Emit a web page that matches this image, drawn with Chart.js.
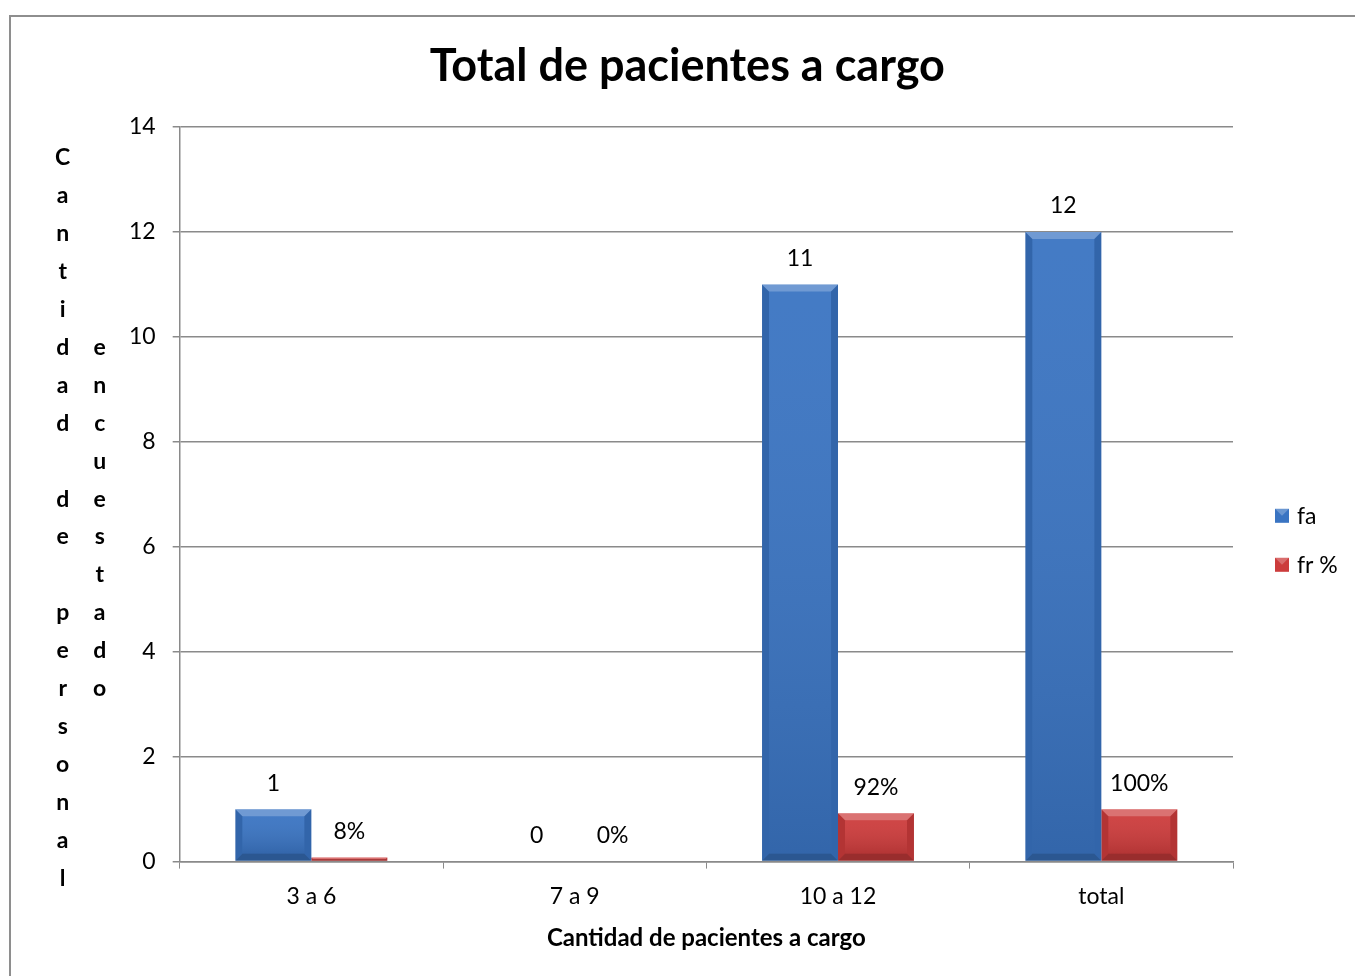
<!DOCTYPE html>
<html>
<head>
<meta charset="utf-8">
<script src="https://cdn.jsdelivr.net/npm/chart.js@4"></script>
<style>
  body { margin: 0; background: #fff; overflow: hidden; }
  #frame { position: absolute; left: 9px; top: 15px; width: 2000px; height: 2000px;
           border-left: 2px solid #8e8e8e; border-top: 2px solid #8e8e8e; }
  #wrap { position: absolute; left: 0; top: 0; width: 1355px; height: 976px; }
</style>
</head>
<body>
<div id="frame"></div>
<div id="wrap"><canvas id="chart" width="1355" height="976"></canvas></div>
<script>
// Data
const categories = ["3 a 6", "7 a 9", "10 a 12", "total"];
const faValues = [1, 0, 11, 12];
const frValues = [0.08, 0, 0.92, 1.00];
const seriesNames = ["fa", "fr %"];
const yTicks = [0, 2, 4, 6, 8, 10, 12, 14];
const chartTitle = "Total de pacientes a cargo";

const FONT = "Lato, 'Liberation Sans', sans-serif";
const colors = { fa: "#3a74c2", fr: "#cc3c3c" };
const gridColor = "#8a8a8a";

// vertical stacked y-axis title, two columns like the original
const yTitleCols = [
  { text: "Cantidad de personal", dx: -117, startRow: 0 },
  { text: "encuestado", dx: -80, startRow: 5 }
];

const bevelPlugin = {
  id: "bevel",
  afterDatasetsDraw(chart) {
    const ctx = chart.ctx;
    chart.data.datasets.forEach((ds, i) => {
      chart.getDatasetMeta(i).data.forEach(bar => {
        const h = bar.base - bar.y;
        if (h <= 0.5) return;
        const l = bar.x - bar.width / 2, r = bar.x + bar.width / 2;
        const t = bar.y, b = bar.base;
        const s = Math.min(7, h / 2, bar.width / 2);
        ctx.save();
        ctx.fillStyle = "rgba(255,255,255,0.28)";
        ctx.beginPath();
        ctx.moveTo(l, t); ctx.lineTo(r, t); ctx.lineTo(r - s, t + s); ctx.lineTo(l + s, t + s);
        ctx.closePath(); ctx.fill();
        ctx.fillStyle = "rgba(0,0,0,0.12)";
        ctx.beginPath();
        ctx.moveTo(l, t); ctx.lineTo(l + s, t + s); ctx.lineTo(l + s, b - s); ctx.lineTo(l, b);
        ctx.closePath(); ctx.fill();
        ctx.beginPath();
        ctx.moveTo(r, t); ctx.lineTo(r - s, t + s); ctx.lineTo(r - s, b - s); ctx.lineTo(r, b);
        ctx.closePath(); ctx.fill();
        ctx.fillStyle = "rgba(0,0,0,0.25)";
        ctx.beginPath();
        ctx.moveTo(l, b); ctx.lineTo(l + s, b - s); ctx.lineTo(r - s, b - s); ctx.lineTo(r, b);
        ctx.closePath(); ctx.fill();
        const g = ctx.createLinearGradient(0, t + s, 0, b - s);
        g.addColorStop(0, "rgba(255,255,255,0.05)");
        g.addColorStop(1, "rgba(0,0,0,0.12)");
        ctx.fillStyle = g;
        ctx.fillRect(l + s, t + s, r - l - 2 * s, Math.max(0, b - t - 2 * s));
        ctx.restore();
      });
    });
  }
};

const labelsPlugin = {
  id: "valueLabels",
  afterDatasetsDraw(chart) {
    const ctx = chart.ctx;
    ctx.save();
    ctx.font = "23px " + FONT;
    ctx.fillStyle = "#000";
    ctx.textAlign = "center";
    ctx.textBaseline = "middle";
    chart.data.datasets.forEach((ds, i) => {
      chart.getDatasetMeta(i).data.forEach((bar, j) => {
        const v = ds.data[j];
        const txt = i === 0 ? String(v) : Math.round(v * 100) + "%";
        ctx.fillText(txt, bar.x, bar.y - 26);
      });
    });
    ctx.restore();
  }
};

const extrasPlugin = {
  id: "extras",
  afterDraw(chart) {
    const ctx = chart.ctx;
    const ca = chart.chartArea;
    ctx.save();
    ctx.fillStyle = "#000";
    ctx.textAlign = "center";
    ctx.textBaseline = "middle";
    // title
    ctx.font = "bold 45px " + FONT;
    ctx.fillText(chartTitle, (ca.left + ca.right) / 2 - 19, ca.top - 61);
    // y axis title, one letter per row
    ctx.font = "bold 23px " + FONT;
    const step = 37.9;
    yTitleCols.forEach(col => {
      [...col.text].forEach((ch, k) => {
        if (ch !== " ") ctx.fillText(ch, ca.left + col.dx, ca.top + 31 + (col.startRow + k) * step);
      });
    });
    // legend
    const lx = ca.right + 42;
    const cy = (ca.top + ca.bottom) / 2 + 46;
    ctx.font = "23px " + FONT;
    ctx.textAlign = "left";
    chart.data.datasets.forEach((ds, i) => {
      const y = cy + (i - 0.5) * 49;
      ctx.fillStyle = ds.backgroundColor;
      ctx.fillRect(lx, y - 7, 14, 14);
      ctx.beginPath();
      ctx.moveTo(lx, y - 7); ctx.lineTo(lx + 7, y); ctx.lineTo(lx + 14, y - 7); ctx.closePath();
      ctx.fillStyle = "rgba(255,255,255,0.25)";
      ctx.fill();
      ctx.fillStyle = "#000";
      ctx.fillText(ds.label, lx + 22, y + 1);
    });
    ctx.restore();
  }
};

new Chart(document.getElementById("chart"), {
  type: "bar",
  data: {
    labels: categories,
    datasets: [
      { label: seriesNames[0], data: faValues, backgroundColor: colors.fa, borderWidth: 0 },
      { label: seriesNames[1], data: frValues, backgroundColor: colors.fr, borderWidth: 0 }
    ]
  },
  options: {
    responsive: false,
    animation: false,
    categoryPercentage: 0.577,
    barPercentage: 1.0,
    layout: { padding: { left: 112, right: 122, top: 127, bottom: 23 } },
    plugins: {
      legend: { display: false },
      tooltip: { enabled: false },
      title: { display: false }
    },
    scales: {
      x: {
        grid: { display: true, offset: true, drawOnChartArea: false, drawTicks: true,
                tickLength: 7, color: gridColor },
        border: { display: true, color: gridColor, width: 1.5 },
        ticks: { color: "#000", font: { family: FONT, size: 23 }, padding: 14 },
        title: {
          display: true,
          text: "Cantidad de pacientes a cargo",
          color: "#000",
          font: { family: FONT, size: 24, weight: "bold" },
          padding: { top: 0, bottom: 0 }
        }
      },
      y: {
        min: 0,
        max: 14,
        afterBuildTicks(axis) { axis.ticks = yTicks.map(v => ({ value: v })); },
        grid: { color: gridColor, lineWidth: 1.5, tickLength: 7 },
        border: { display: true, color: gridColor, width: 1.5 },
        ticks: { color: "#000", font: { family: FONT, size: 23 }, padding: 17 }
      }
    }
  },
  plugins: [bevelPlugin, labelsPlugin, extrasPlugin]
});
</script>
</body>
</html>
